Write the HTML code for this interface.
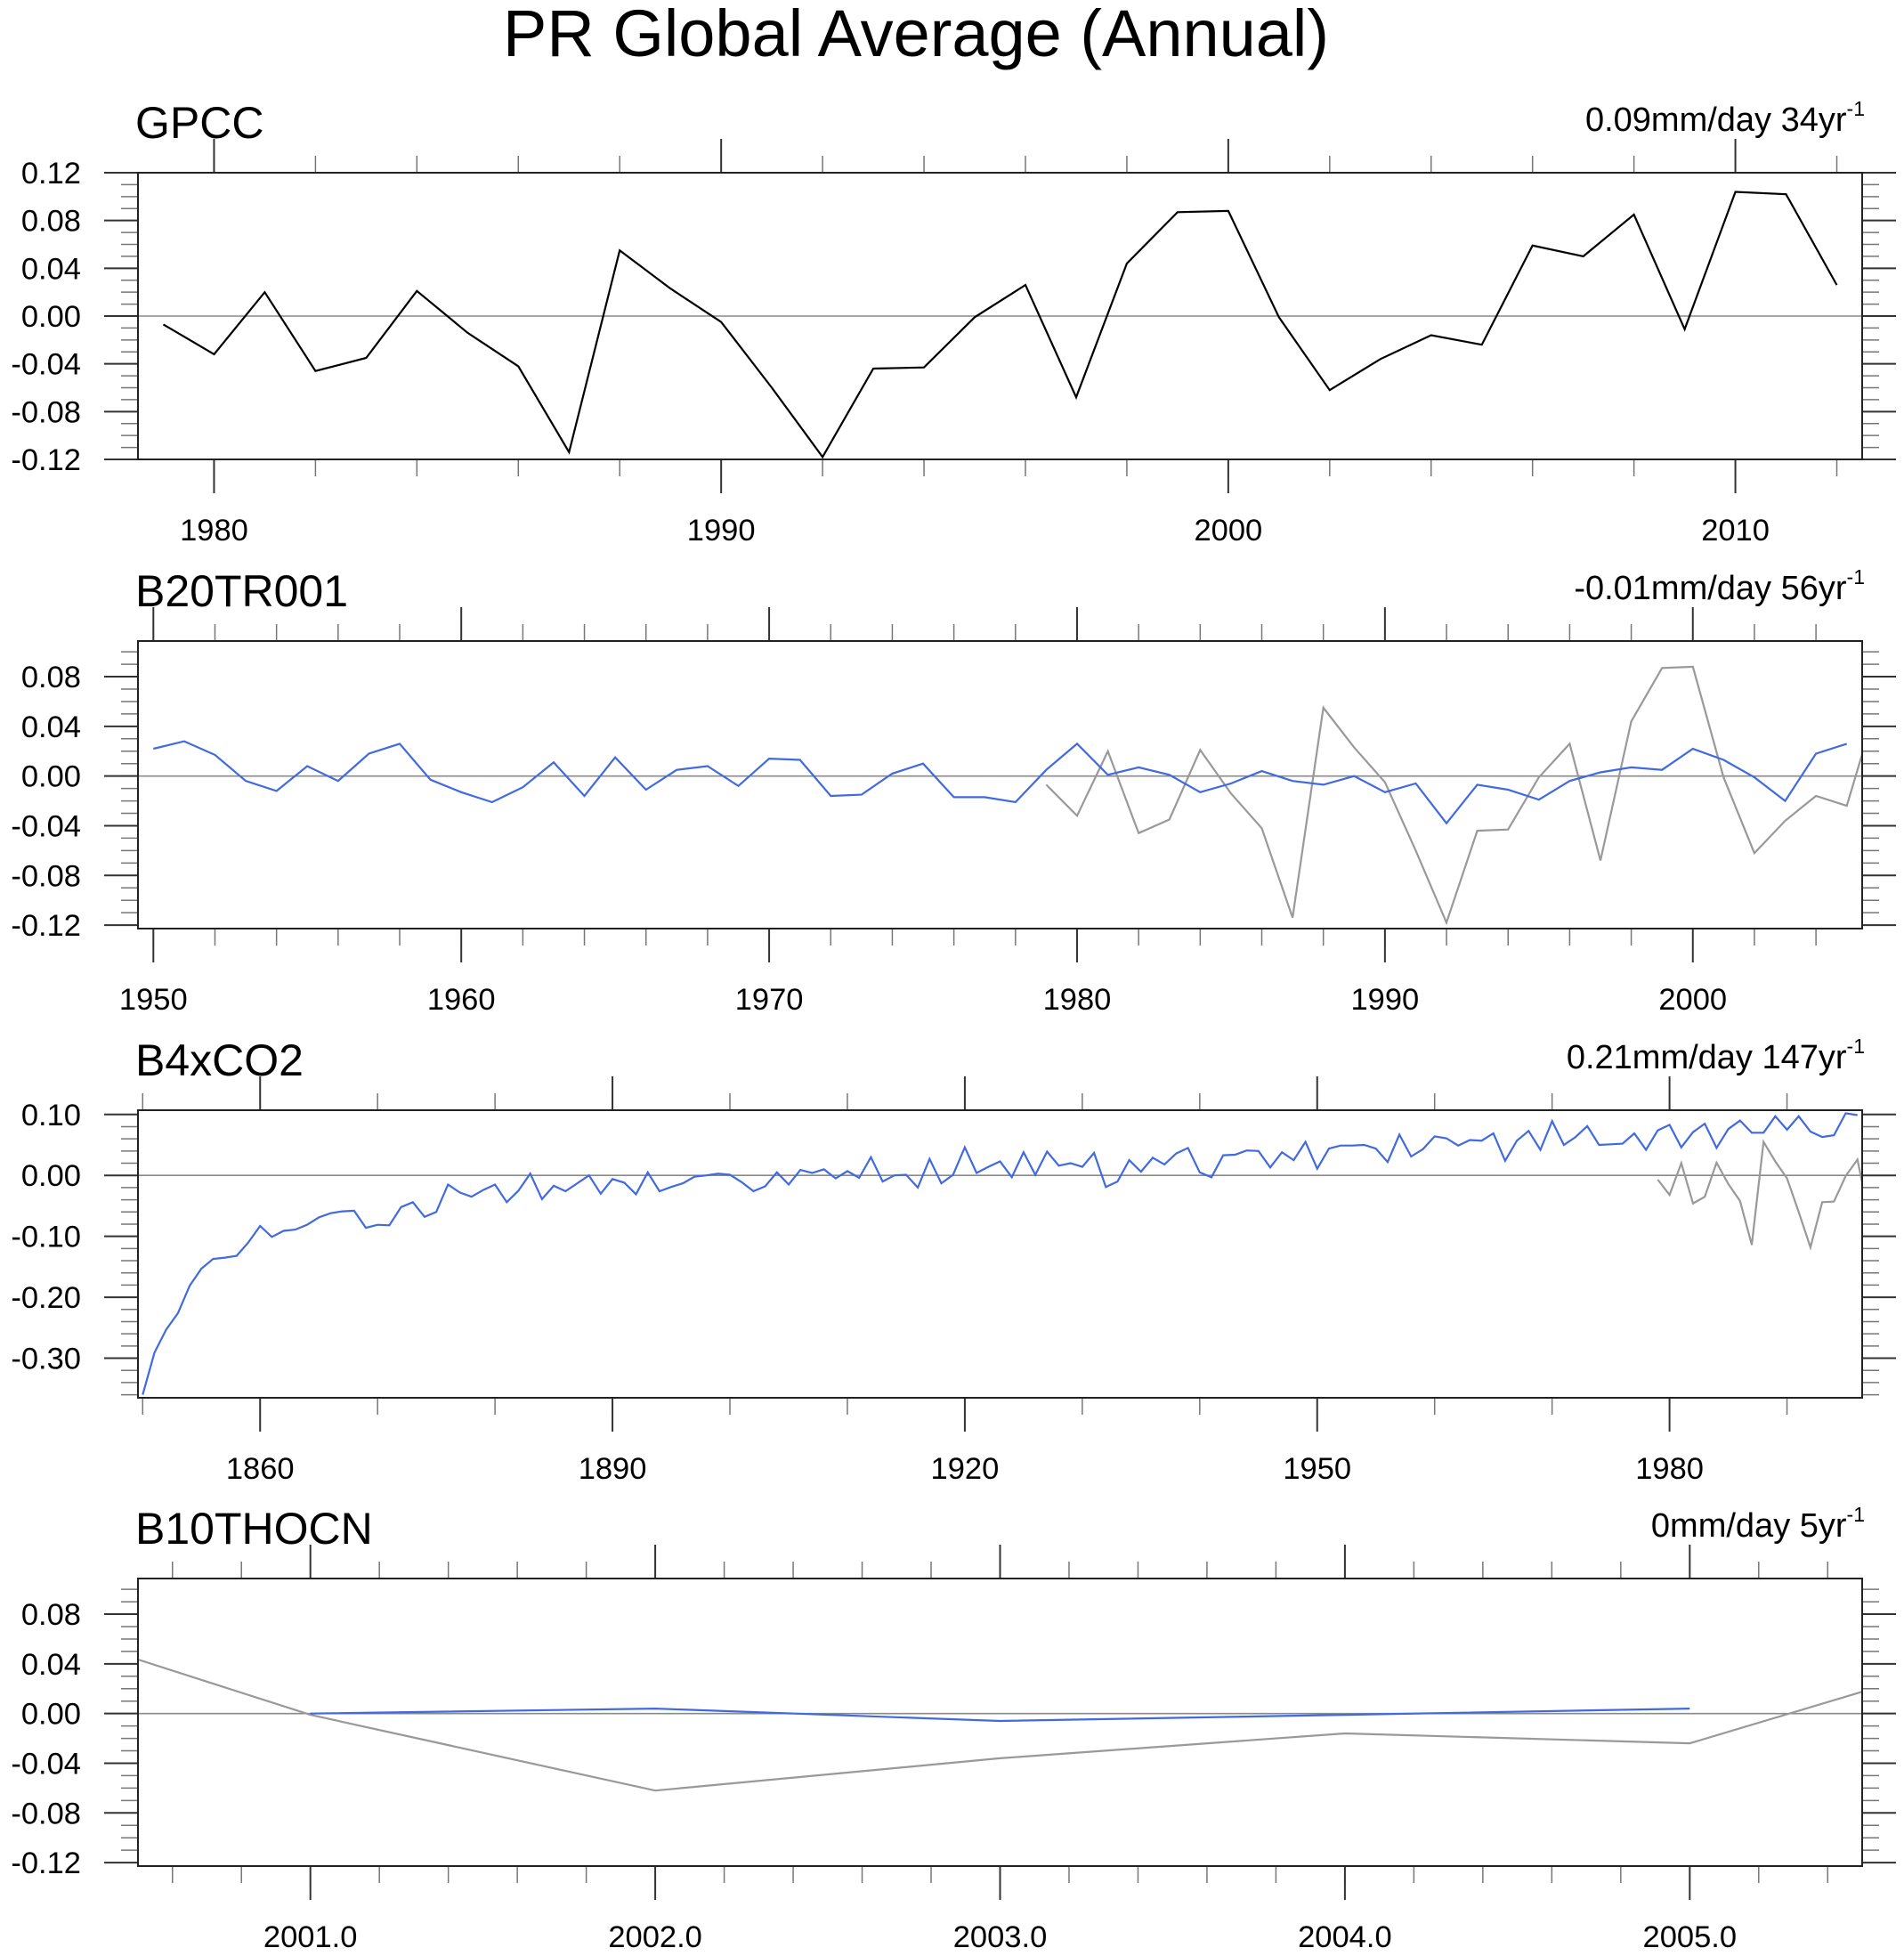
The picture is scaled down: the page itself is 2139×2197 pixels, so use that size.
<!DOCTYPE html>
<html>
<head>
<meta charset="utf-8">
<style>
html,body{margin:0;padding:0;background:#fff;}
svg{display:block;font-family:"Liberation Sans",Arial,sans-serif;}
</style>
</head>
<body>
<svg id="chart" xmlns="http://www.w3.org/2000/svg" width="2139" height="2197" viewBox="0 0 2139 2197">
<text x="1029" y="63" font-size="74" text-anchor="middle" textLength="928" lengthAdjust="spacingAndGlyphs">PR Global Average (Annual)</text>
</svg>
<script>
// ---- data ----
const gpccStart = 1979;
const gpcc = [-0.007,-0.032,0.020,-0.046,-0.035,0.021,-0.014,-0.042,-0.114,0.055,
  0.023,-0.005,-0.060,-0.118,-0.044,-0.043,-0.001,0.026,-0.068,0.044,
  0.087,0.088,-0.001,-0.062,-0.036,-0.016,-0.024,0.059,0.050,0.085,
  -0.011,0.104,0.102,0.026];
const b20Start = 1950;
const b20 = [0.022,0.028,0.017,-0.004,-0.012,0.008,-0.004,0.018,0.026,-0.003,
  -0.013,-0.021,-0.009,0.011,-0.016,0.015,-0.011,0.005,0.008,-0.008,
  0.014,0.013,-0.016,-0.015,0.002,0.010,-0.017,-0.017,-0.021,0.005,
  0.026,0.001,0.007,0.001,-0.013,-0.006,0.004,-0.004,-0.007,0.000,
  -0.013,-0.006,-0.038,-0.007,-0.011,-0.019,-0.004,0.003,0.007,0.005,
  0.022,0.013,-0.001,-0.020,0.018,0.026];
const b4xStart = 1850;
const b4x = [-0.360,-0.291,-0.253,-0.226,-0.181,-0.153,-0.137,-0.135,-0.132,-0.110,
  -0.083,-0.101,-0.091,-0.089,-0.081,-0.069,-0.062,-0.059,-0.058,-0.086,
  -0.081,-0.082,-0.052,-0.044,-0.068,-0.060,-0.015,-0.028,-0.035,-0.024,
  -0.015,-0.044,-0.025,0.003,-0.039,-0.017,-0.026,-0.013,0.000,-0.030,
  -0.006,-0.012,-0.031,0.005,-0.026,-0.019,-0.013,-0.002,0.000,0.003,
  0.001,-0.011,-0.026,-0.018,0.005,-0.015,0.009,0.004,0.010,-0.005,
  0.007,-0.004,0.030,-0.010,0.000,0.001,-0.020,0.027,-0.013,0.001,
  0.046,0.004,0.014,0.023,-0.003,0.038,0.001,0.039,0.016,0.020,
  0.014,0.037,-0.019,-0.010,0.025,0.006,0.029,0.018,0.036,0.045,
  0.005,-0.003,0.033,0.034,0.041,0.040,0.013,0.038,0.025,0.055,
  0.011,0.044,0.049,0.049,0.050,0.044,0.022,0.067,0.031,0.043,
  0.064,0.061,0.049,0.058,0.057,0.069,0.024,0.057,0.073,0.042,
  0.089,0.050,0.063,0.081,0.050,0.051,0.052,0.069,0.042,0.074,
  0.083,0.046,0.071,0.085,0.045,0.076,0.090,0.070,0.070,0.097,
  0.075,0.097,0.072,0.063,0.066,0.102,0.099];
const b10Start = 2001;
const b10 = [0.000,0.004,-0.006,-0.001,0.004];

const panelTitles = ["GPCC","B20TR001","B4xCO2","B10THOCN"];
const trendValues = ["0.09mm/day 34yr","-0.01mm/day 56yr","0.21mm/day 147yr","0mm/day 5yr"];
const yTickLabels1 = ["-0.12","-0.08","-0.04","0.00","0.04","0.08","0.12"];
const yTickLabels2 = ["-0.12","-0.08","-0.04","0.00","0.04","0.08"];
const yTickLabels3 = ["-0.30","-0.20","-0.10","0.00","0.10"];
const xTickLabels1 = ["1980","1990","2000","2010"];
const xTickLabels2 = ["1950","1960","1970","1980","1990","2000"];
const xTickLabels3 = ["1860","1890","1920","1950","1980"];
const xTickLabels4 = ["2001.0","2002.0","2003.0","2004.0","2005.0"];

// ---- drawing ----
const NS = "http://www.w3.org/2000/svg";
const svg = document.getElementById("chart");
function mk(tag, parent, attrs){
  const e = document.createElementNS(NS, tag);
  for (const k in attrs) e.setAttribute(k, attrs[k]);
  parent.appendChild(e);
  return e;
}
const L = 155, R = 2092;

const panels = [
  {top:194, bot:516, x0:1978.5, x1:2012.5, y0:-0.12, y1:0.12,
   yLab:yTickLabels1, xLab:xTickLabels1, yMinStep:0.01, xMinStep:2, xMinFrom:1980,
   series:[{s:gpccStart,v:gpcc,c:"#000000",n:"gpcc-line"}]},
  {top:720, bot:1043, x0:1949.5, x1:2005.5, y0:-0.1228, y1:0.1087,
   yLab:yTickLabels2, xLab:xTickLabels2, yMinStep:0.01, xMinStep:2, xMinFrom:1950,
   series:[{s:gpccStart,v:gpcc,c:"#999999",n:"gpcc-reference-line"},{s:b20Start,v:b20,c:"#4169e1",n:"b20tr001-line"}]},
  {top:1247, bot:1570, x0:1849.6, x1:1996.4, y0:-0.365, y1:0.107,
   yLab:yTickLabels3, xLab:xTickLabels3, yMinStep:0.02, xMinStep:10, xMinFrom:1850,
   series:[{s:gpccStart,v:gpcc,c:"#999999",n:"gpcc-reference-line"},{s:b4xStart,v:b4x,c:"#4169e1",n:"b4xco2-line"}]},
  {top:1773, bot:2096, x0:2000.5, x1:2005.5, y0:-0.1228, y1:0.1087,
   yLab:yTickLabels2, xLab:xTickLabels4, yMinStep:0.01, xMinStep:0.2, xMinFrom:2000.6,
   series:[{s:gpccStart,v:gpcc,c:"#999999",n:"gpcc-reference-line"},{s:b10Start,v:b10,c:"#4169e1",n:"b10thocn-line"}]}
];

panels.forEach((p, i) => {
  const g = mk("g", svg, {});
  
  
  const X = v => L + (v - p.x0) / (p.x1 - p.x0) * (R - L);
  const Y = v => p.bot - (v - p.y0) / (p.y1 - p.y0) * (p.bot - p.top);

  const clipId = "clip" + i;
  const cp = mk("clipPath", g, {id: clipId});
  mk("rect", cp, {x:L, y:p.top, width:R-L, height:p.bot-p.top});

  const z = mk("line", g, {x1:L, x2:R, y1:Y(0), y2:Y(0), stroke:"#8a8a8a", "stroke-width":1.6});
  
  

  const eps = 1e-9;
  const firstMinor = Math.ceil((p.y0 - eps) / p.yMinStep);
  for (let k = firstMinor; k * p.yMinStep <= p.y1 + eps; k++) {
    const v = k * p.yMinStep, y = Y(v);
    mk("line", g, {x1:L-19, x2:L, y1:y, y2:y, stroke:"#777", "stroke-width":1.5});
    mk("line", g, {x1:R, x2:R+19, y1:y, y2:y, stroke:"#777", "stroke-width":1.5});
  }
  p.yLab.forEach(lbl => {
    const v = parseFloat(lbl), y = Y(v);
    mk("line", g, {x1:L-38, x2:L, y1:y, y2:y, stroke:"#333", "stroke-width":2});
    mk("line", g, {x1:R, x2:R+38, y1:y, y2:y, stroke:"#333", "stroke-width":2});
    const t = mk("text", g, {x:91, y:y+12, "font-size":34.5, "text-anchor":"end"});
    
    
    t.textContent = lbl;
  });
  for (let v = p.xMinFrom; v <= p.x1 + eps; v += p.xMinStep) {
    if (v < p.x0) continue;
    const x = X(v);
    mk("line", g, {x1:x, x2:x, y1:p.top-19, y2:p.top, stroke:"#777", "stroke-width":1.5});
    mk("line", g, {x1:x, x2:x, y1:p.bot, y2:p.bot+19, stroke:"#777", "stroke-width":1.5});
  }
  p.xLab.forEach(lbl => {
    const v = parseFloat(lbl), x = X(v);
    mk("line", g, {x1:x, x2:x, y1:p.top-38, y2:p.top, stroke:"#333", "stroke-width":2});
    mk("line", g, {x1:x, x2:x, y1:p.bot, y2:p.bot+38, stroke:"#333", "stroke-width":2});
    const t = mk("text", g, {x:x, y:p.bot+91, "font-size":34.5, "text-anchor":"middle"});
    
    
    t.textContent = lbl;
  });

  p.series.forEach(s => {
    const pts = s.v.map((v, j) => X(s.s + j).toFixed(1) + "," + Y(v).toFixed(1)).join(" ");
    const pl = mk("polyline", g, {points:pts, fill:"none", stroke:s.c, "stroke-width":2.2,
      "stroke-linejoin":"miter", "clip-path":"url(#" + clipId + ")"});
    
    
  });

  const fr = mk("rect", g, {x:L, y:p.top, width:R-L, height:p.bot-p.top, fill:"none", stroke:"#222", "stroke-width":2});
  
  

  const tt = mk("text", g, {x:152, y:p.top-39, "font-size":50});
  
  
  tt.textContent = panelTitles[i];

  const tr = mk("text", g, {x:R+3, y:p.top-47, "font-size":38, "text-anchor":"end"});
  
  
  tr.appendChild(document.createTextNode(trendValues[i]));
  const sup = mk("tspan", tr, {"font-size":23, dy:-17});
  sup.textContent = "-1";
});
</script>
</body>
</html>
